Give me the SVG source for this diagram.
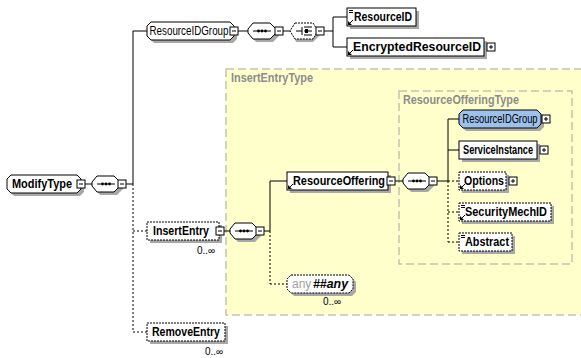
<svg xmlns="http://www.w3.org/2000/svg" width="581" height="358" viewBox="0 0 581 358">
<defs>
<style>
.bg{fill:#FFFFCC;stroke:#C4C4B0;stroke-width:1.5;stroke-dasharray:8,4}
.ttl{font-family:"Liberation Sans",Arial,sans-serif;font-size:12px;font-weight:bold;fill:#8C8C8C}
.sh{fill:#A8A8A8}
.bx{fill:#fff;stroke:#000;stroke-width:1}
.opt{stroke-dasharray:2,1}
.blue{fill:#9CC2EC}
.lbl{font-family:"Liberation Sans",Arial,sans-serif;font-size:12px;font-weight:bold;fill:#000;text-anchor:middle}
.reg{font-weight:normal}
.occ{font-family:"Liberation Sans",Arial,sans-serif;font-size:10px;fill:#000}
.ln{stroke:#000;stroke-width:1;fill:none}
.dl{stroke:#000;stroke-width:1;fill:none;stroke-dasharray:2,2}
.pm{fill:#fff;stroke:#000;stroke-width:1}
.ico{stroke:#000;stroke-width:1;fill:none}
</style>
<g id="minus"><rect class="pm" x="0" y="0" width="8" height="8"/><line class="ln" x1="2" y1="4" x2="6" y2="4"/></g>
<g id="plus"><rect class="pm" x="0" y="0" width="8" height="8"/><line class="ln" x1="2" y1="4" x2="6" y2="4"/><line class="ln" x1="4" y1="2" x2="4" y2="6"/></g>
<g id="seq"><path class="sh" d="M8,3 H25 L31,9 V13 L25,19 H8 L3,13 V9 Z"/><path class="bx" d="M5,0 H22 L28,6 V10 L22,16 H5 L0,10 V6 Z"/><line class="ln" x1="5" y1="8" x2="23" y2="8"/><circle cx="10.5" cy="8" r="1.4"/><circle cx="14" cy="8" r="1.4"/><circle cx="17.5" cy="8" r="1.4"/></g>
<g id="ref"><line class="ico" x1="2" y1="-2" x2="6" y2="-6"/><path d="M1,-1 L1,-5 L5,-1 Z"/></g>
<g id="simple"><line class="ico" x1="2" y1="2.5" x2="6" y2="2.5"/><line class="ico" x1="2" y1="4.5" x2="6" y2="4.5"/></g>
</defs>

<rect class="bg" x="226" y="69" width="370" height="246"/>
<text class="ttl" x="231" y="82" textLength="82" lengthAdjust="spacingAndGlyphs">InsertEntryType</text>
<rect class="bg" x="399" y="91" width="173" height="173"/>
<text class="ttl" x="403" y="104" textLength="116" lengthAdjust="spacingAndGlyphs">ResourceOfferingType</text>

<g id="connectors">
<line class="ln" x1="85" y1="184" x2="92" y2="184"/>
<line class="ln" x1="126" y1="184" x2="133" y2="184"/>
<line class="ln" x1="133" y1="31" x2="133" y2="184"/>
<line class="dl" x1="133" y1="184" x2="133" y2="332"/>
<line class="ln" x1="133" y1="31" x2="147" y2="31"/>
<line class="dl" x1="133" y1="231" x2="147" y2="231"/>
<line class="dl" x1="133" y1="332" x2="147" y2="332"/>
<line class="ln" x1="238" y1="31" x2="248" y2="31"/>
<line class="ln" x1="283" y1="31" x2="290" y2="31"/>
<line class="ln" x1="324" y1="31" x2="333" y2="31"/>
<line class="ln" x1="333" y1="17" x2="333" y2="47"/>
<line class="ln" x1="333" y1="17" x2="347" y2="17"/>
<line class="ln" x1="333" y1="47" x2="347" y2="47"/>
<line class="ln" x1="224" y1="231" x2="230" y2="231"/>
<line class="ln" x1="264" y1="231" x2="270" y2="231"/>
<line class="ln" x1="270" y1="181" x2="270" y2="231"/>
<line class="dl" x1="270" y1="231" x2="270" y2="284"/>
<line class="ln" x1="270" y1="181" x2="287" y2="181"/>
<line class="dl" x1="270" y1="284" x2="287" y2="284"/>
<line class="ln" x1="395" y1="181" x2="403" y2="181"/>
<line class="ln" x1="437" y1="181" x2="448" y2="181"/>
<line class="ln" x1="448" y1="119" x2="448" y2="181"/>
<line class="dl" x1="448" y1="181" x2="448" y2="242"/>
<line class="ln" x1="448" y1="119" x2="459" y2="119"/>
<line class="ln" x1="448" y1="150" x2="459" y2="150"/>
<line class="dl" x1="448" y1="181" x2="459" y2="181"/>
<line class="dl" x1="448" y1="212" x2="459" y2="212"/>
<line class="dl" x1="448" y1="242" x2="459" y2="242"/>
</g>

<g id="ModifyType">
<path class="sh" d="M14,178 H80 L84,182 V192 L80,196 H14 L10,192 V182 Z"/>
<path class="bx" d="M11,175 H77 L81,179 V189 L77,193 H11 L7,189 V179 Z"/>
<text class="lbl" x="42" y="188" textLength="60" lengthAdjust="spacingAndGlyphs">ModifyType</text>
<use href="#minus" x="77" y="180"/>
</g>
<g id="seq1"><use href="#seq" x="92" y="176"/><use href="#minus" x="118" y="180"/></g>

<g id="ResourceIDGroup">
<path class="sh" d="M154,25 H233 L237,29 V39 L233,43 H154 L150,39 V29 Z"/>
<path class="bx" d="M151,22 H230 L234,26 V36 L230,40 H151 L147,36 V26 Z"/>
<text class="lbl reg" x="189" y="35" textLength="79" lengthAdjust="spacingAndGlyphs">ResourceIDGroup</text>
<use href="#minus" x="230" y="27"/>
</g>
<g id="seq2"><use href="#seq" x="248" y="23"/><use href="#minus" x="275" y="27"/></g>
<g id="choice">
<path class="sh" d="M296,26 H313 L321,34 L313,42 H296 L293,34 Z"/>
<path class="bx" d="M295,23 H313 L318,31 L313,39 H295 L290,31 Z" stroke-dasharray="2,1"/>
<line class="ln" x1="296" y1="31" x2="302" y2="31"/>
<line class="ln" x1="302" y1="27" x2="302" y2="35"/>
<line class="ln" x1="304" y1="27" x2="312" y2="27"/>
<line class="ln" x1="304" y1="31" x2="312" y2="31"/>
<line class="ln" x1="304" y1="35" x2="312" y2="35"/>
<rect x="305" y="29" width="3" height="4" fill="#000"/>
<use href="#minus" x="316" y="27"/>
</g>

<g id="ResourceID">
<rect class="sh" x="350" y="11" width="69" height="18"/>
<rect class="bx" x="347" y="8" width="69" height="18"/>
<use href="#simple" x="347" y="8"/><use href="#ref" x="347" y="26"/>
<text class="lbl" x="383" y="21" textLength="58" lengthAdjust="spacingAndGlyphs">ResourceID</text>
</g>
<g id="EncryptedResourceID">
<rect class="sh" x="350" y="41" width="137" height="18"/>
<rect class="bx" x="347" y="38" width="137" height="18"/>
<use href="#ref" x="347" y="56"/>
<text class="lbl" x="417" y="51" textLength="128" lengthAdjust="spacingAndGlyphs">EncryptedResourceID</text>
<use href="#plus" x="487" y="43"/>
</g>

<g id="InsertEntry">
<rect class="sh" x="150" y="225" width="72" height="18"/>
<rect class="bx opt" x="147" y="222" width="72" height="18"/>
<text class="lbl" x="181" y="235" textLength="56" lengthAdjust="spacingAndGlyphs">InsertEntry</text>
<use href="#minus" x="216" y="227"/>
<text class="occ" x="197" y="254">0..∞</text>
</g>
<g id="seq3"><use href="#seq" x="230" y="223"/><use href="#minus" x="256" y="227"/></g>

<g id="ResourceOffering">
<rect class="sh" x="290" y="175" width="101" height="18"/>
<rect class="bx" x="287" y="172" width="101" height="18"/>
<use href="#ref" x="287" y="190"/>
<text class="lbl" x="339" y="185" textLength="92" lengthAdjust="spacingAndGlyphs">ResourceOffering</text>
<use href="#minus" x="387" y="177"/>
</g>
<g id="seq4"><use href="#seq" x="403" y="173"/><use href="#minus" x="429" y="177"/></g>

<g id="ResourceIDGroup2">
<path class="sh" d="M466,113 H540 L544,117 V127 L540,131 H466 L462,127 V117 Z"/>
<path class="bx blue" d="M463,110 H537 L541,114 V124 L537,128 H463 L459,124 V114 Z"/>
<text class="lbl reg" x="500" y="123" textLength="75" lengthAdjust="spacingAndGlyphs">ResourceIDGroup</text>
<use href="#plus" x="542" y="115"/>
</g>
<g id="ServiceInstance">
<rect class="sh" x="462" y="144" width="78" height="18"/>
<rect class="bx" x="459" y="141" width="78" height="18"/>
<text class="lbl" x="498" y="154" textLength="70" lengthAdjust="spacingAndGlyphs">ServiceInstance</text>
<use href="#plus" x="540" y="146"/>
</g>
<g id="Options">
<rect class="sh" x="462" y="175" width="47" height="18"/>
<rect class="bx opt" x="459" y="172" width="47" height="18"/>
<use href="#ref" x="459" y="190"/>
<text class="lbl" x="484" y="185" textLength="40" lengthAdjust="spacingAndGlyphs">Options</text>
<use href="#plus" x="509" y="177"/>
</g>
<g id="SecurityMechID">
<rect class="sh" x="462" y="206" width="92" height="18"/>
<rect class="bx opt" x="459" y="203" width="92" height="18"/>
<use href="#simple" x="459" y="203"/><use href="#ref" x="459" y="221"/>
<text class="lbl" x="506" y="216" textLength="82" lengthAdjust="spacingAndGlyphs">SecurityMechID</text>
</g>
<g id="Abstract">
<rect class="sh" x="462" y="236" width="53" height="18"/>
<rect class="bx opt" x="459" y="233" width="53" height="18"/>
<use href="#simple" x="459" y="233"/>
<text class="lbl" x="487" y="246" textLength="44" lengthAdjust="spacingAndGlyphs">Abstract</text>
</g>

<g id="any">
<path class="sh" d="M294,278 H352 L356,282 V292 L352,296 H294 L290,292 V282 Z"/>
<path class="bx opt" d="M291,275 H349 L353,279 V289 L349,293 H291 L287,289 V279 Z"/>
<text x="292" y="288" font-family="Liberation Sans, Arial, sans-serif" font-size="12" fill="#A0A0A0">any</text>
<text x="313" y="288" font-family="Liberation Sans, Arial, sans-serif" font-size="12" font-weight="bold" font-style="italic" fill="#000" textLength="35" lengthAdjust="spacingAndGlyphs">##any</text>
<text class="occ" x="323" y="305">0..∞</text>
</g>

<g id="RemoveEntry">
<rect class="sh" x="150" y="326" width="78" height="18"/>
<rect class="bx opt" x="147" y="323" width="78" height="18"/>
<text class="lbl" x="186" y="336" textLength="68" lengthAdjust="spacingAndGlyphs">RemoveEntry</text>
<text class="occ" x="205" y="355">0..∞</text>
</g>
</svg>
